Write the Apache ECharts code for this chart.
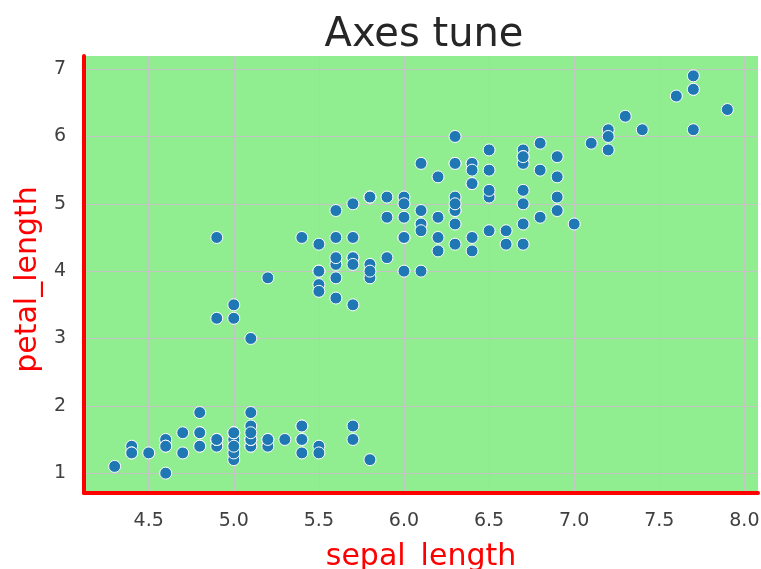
<!DOCTYPE html>
<html>
<head>
<meta charset="utf-8">
<script src="https://cdn.jsdelivr.net/npm/echarts@6/dist/echarts.min.js"></script>
<style>
  html, body { margin: 0; padding: 0; background: #fff; }
  #main { width: 761px; height: 569px; }
</style>
</head>
<body>
<div id="main"></div>
<script>
// iris: sepal_length / petal_length
var sepalLength = [
  5.1,4.9,4.7,4.6,5.0,5.4,4.6,5.0,4.4,4.9,5.4,4.8,4.8,4.3,5.8,5.7,5.4,5.1,5.7,5.1,
  5.4,5.1,4.6,5.1,4.8,5.0,5.0,5.2,5.2,4.7,4.8,5.4,5.2,5.5,4.9,5.0,5.5,4.9,4.4,5.1,
  5.0,4.5,4.4,5.0,5.1,4.8,5.1,4.6,5.3,5.0,
  7.0,6.4,6.9,5.5,6.5,5.7,6.3,4.9,6.6,5.2,5.0,5.9,6.0,6.1,5.6,6.7,5.6,5.8,6.2,5.6,
  5.9,6.1,6.3,6.1,6.4,6.6,6.8,6.7,6.0,5.7,5.5,5.5,5.8,6.0,5.4,6.0,6.7,6.3,5.6,5.5,
  5.5,6.1,5.8,5.0,5.6,5.7,5.7,6.2,5.1,5.7,
  6.3,5.8,7.1,6.3,6.5,7.6,4.9,7.3,6.7,7.2,6.5,6.4,6.8,5.7,5.8,6.4,6.5,7.7,7.7,6.0,
  6.9,5.6,7.7,6.3,6.7,7.2,6.2,6.1,6.4,7.2,7.4,7.9,6.4,6.3,6.1,7.7,6.3,6.4,6.0,6.9,
  6.7,6.9,5.8,6.8,6.7,6.7,6.3,6.5,6.2,5.9
];
var petalLength = [
  1.4,1.4,1.3,1.5,1.4,1.7,1.4,1.5,1.4,1.5,1.5,1.6,1.4,1.1,1.2,1.5,1.3,1.4,1.7,1.5,
  1.7,1.5,1.0,1.7,1.9,1.6,1.6,1.5,1.4,1.6,1.6,1.5,1.5,1.4,1.5,1.2,1.3,1.5,1.3,1.5,
  1.3,1.3,1.3,1.6,1.9,1.4,1.6,1.4,1.5,1.4,
  4.7,4.5,4.9,4.0,4.6,4.5,4.7,3.3,4.6,3.9,3.5,4.2,4.0,4.7,3.6,4.4,4.5,4.1,4.5,3.9,
  4.8,4.0,4.9,4.7,4.3,4.4,4.8,5.0,4.5,3.5,3.8,3.7,3.9,5.1,4.5,4.5,4.7,4.4,4.1,4.0,
  4.4,4.6,4.0,3.3,4.2,4.2,4.2,4.3,3.0,4.1,
  6.0,5.1,5.9,5.6,5.8,6.6,4.5,6.3,5.8,6.1,5.1,5.3,5.5,5.0,5.1,5.3,5.5,6.7,6.9,5.0,
  5.7,4.9,6.7,4.9,5.7,6.0,4.8,4.9,5.6,5.8,6.1,6.4,5.6,5.1,5.6,6.1,5.6,5.5,4.8,5.4,
  5.6,5.1,5.1,5.9,5.7,5.2,5.0,5.2,5.4,5.1
];
var xTicks = [4.5, 5.0, 5.5, 6.0, 6.5, 7.0, 7.5, 8.0];
var yTicks = [1, 2, 3, 4, 5, 6, 7];

var points = sepalLength.map(function (v, i) { return [v, petalLength[i]]; });

var font = 'DejaVu Sans';
var chart = echarts.init(document.getElementById('main'));
chart.setOption({
  animation: false,
  backgroundColor: '#ffffff',
  title: {
    text: 'Axes tune',
    left: 419, top: 11, textAlign: 'center',
    textStyle: { fontFamily: font, fontSize: 40, fontWeight: 'normal', color: '#262626' }
  },
  grid: {
    left: 84, right: 3, top: 56, bottom: 76,
    outerBoundsMode: 'none',
    show: true, backgroundColor: '#90EE90', borderWidth: 0
  },
  xAxis: {
    type: 'value', min: 4.12, max: 8.08,
    name: 'sepal_length', nameLocation: 'middle', nameGap: 49,
    nameTextStyle: { fontFamily: font, fontSize: 30, color: '#ff0000' },
    axisLine: { show: true, onZero: false, lineStyle: { color: '#ff0000', width: 4 } },
    axisTick: { show: false, customValues: xTicks },
    axisLabel: {
      customValues: xTicks, margin: 19,
      fontFamily: font, fontSize: 19, color: '#404040',
      formatter: function (v) { return v.toFixed(1); }
    },
    splitLine: { show: true, lineStyle: { color: '#c4c4c4', width: 1 } }
  },
  yAxis: {
    type: 'value', min: 0.705, max: 7.195,
    name: 'petal_length', nameLocation: 'middle', nameGap: 39,
    nameTextStyle: { fontFamily: font, fontSize: 30, color: '#ff0000', padding: [0, 10, 0, 0] },
    axisLine: { show: true, onZero: false, lineStyle: { color: '#ff0000', width: 4 } },
    axisTick: { show: false, customValues: yTicks },
    axisLabel: {
      customValues: yTicks, margin: 18,
      fontFamily: font, fontSize: 19, color: '#404040'
    },
    splitLine: { show: true, lineStyle: { color: '#c4c4c4', width: 1 } }
  },
  series: [{
    type: 'scatter',
    data: points,
    symbolSize: 12,
    itemStyle: { color: '#1f77b4', borderColor: '#ffffff', borderWidth: 1, opacity: 1 }
  }]
});
</script>
</body>
</html>
